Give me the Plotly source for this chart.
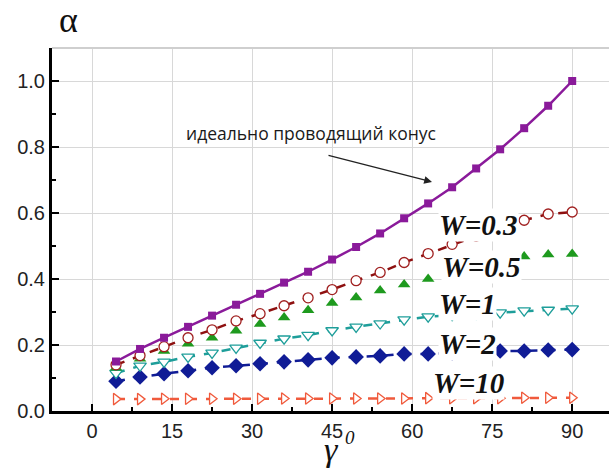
import plotly.graph_objects as go

gamma = [4.5, 9, 13.5, 18, 22.5, 27, 31.5, 36, 40.5, 45, 49.5, 54, 58.5, 63, 67.5, 72, 76.5, 81, 85.5, 90]

alpha_ideal = [0.150, 0.188, 0.222, 0.255, 0.289, 0.322, 0.355, 0.389, 0.422, 0.459,
               0.497, 0.538, 0.584, 0.629, 0.678, 0.735, 0.793, 0.857, 0.925, 1.000]
alpha_w03 = [0.140, 0.168, 0.195, 0.222, 0.246, 0.273, 0.295, 0.319, 0.343, 0.368,
             0.395, 0.420, 0.450, 0.477, 0.505, 0.530, 0.555, 0.578, 0.597, 0.603]
alpha_w05 = [0.131, 0.158, 0.182, 0.204, 0.222, 0.243, 0.264, 0.283, 0.305, 0.327,
             0.344, 0.365, 0.383, 0.400, 0.420, 0.440, 0.455, 0.468, 0.474, 0.476]
alpha_w1 = [0.115, 0.137, 0.149, 0.164, 0.176, 0.191, 0.206, 0.219, 0.230, 0.244,
            0.255, 0.265, 0.277, 0.286, 0.290, 0.294, 0.298, 0.304, 0.306, 0.310]
alpha_w2 = [0.090, 0.103, 0.113, 0.122, 0.131, 0.137, 0.143, 0.149, 0.155, 0.161,
            0.164, 0.167, 0.173, 0.173, 0.176, 0.179, 0.182, 0.182, 0.185, 0.186]
alpha_w10 = [0.036, 0.036, 0.037, 0.037, 0.037, 0.037, 0.037, 0.038, 0.038, 0.038,
             0.038, 0.038, 0.038, 0.039, 0.039, 0.039, 0.039, 0.040, 0.040, 0.040]

x_ticks = [0, 15, 30, 45, 60, 75, 90]
y_ticks = [0.0, 0.2, 0.4, 0.6, 0.8, 1.0]

fig = go.Figure()

fig.add_trace(go.Scatter(x=gamma, y=alpha_w10, mode="lines+markers",
    line=dict(color="#F05A3C", width=2.5, dash="dash"),
    marker=dict(symbol="triangle-right", size=10, color="white", line=dict(color="#F05A3C", width=1.3))))
fig.add_trace(go.Scatter(x=gamma, y=alpha_w2, mode="lines+markers",
    line=dict(color="#101C96", width=2.5, dash="dash"),
    marker=dict(symbol="diamond", size=12, color="#101C96")))
fig.add_trace(go.Scatter(x=gamma, y=alpha_w1, mode="lines+markers",
    line=dict(color="#1E9E9A", width=2.5, dash="dash"),
    marker=dict(symbol="triangle-down", size=11, color="white", line=dict(color="#1E9E9A", width=1.3))))
fig.add_trace(go.Scatter(x=gamma, y=alpha_w05, mode="markers",
    marker=dict(symbol="triangle-up", size=11, color="#1E9A1E")))
fig.add_trace(go.Scatter(x=gamma, y=alpha_w03, mode="lines+markers",
    line=dict(color="#8E1010", width=2.5, dash="dash"),
    marker=dict(symbol="circle", size=10, color="white", line=dict(color="#A02020", width=1.3))))
fig.add_trace(go.Scatter(x=gamma, y=alpha_ideal, mode="lines+markers",
    line=dict(color="#8A1A9A", width=2.5),
    marker=dict(symbol="square", size=8, color="#8A1A9A")))

def px(x):
    return (x - 52) / 557

def py(y):
    return (411 - y) / 363

lab_font = dict(family="Liberation Serif", size=29, color="#111")
labels = [("<b><i>W=0.3</i></b>", 478, 225), ("<b><i>W=0.5</i></b>", 481, 267),
          ("<b><i>W=1</i></b>", 467, 304), ("<b><i>W=2</i></b>", 467, 344),
          ("<b><i>W=10</i></b>", 468, 383)]
for txt, lx, ly in labels:
    fig.add_annotation(text=txt, xref="paper", yref="paper", x=px(lx), y=py(ly),
        xanchor="center", yanchor="middle", showarrow=False, font=lab_font,
        bgcolor="white", borderpad=0)

fig.add_annotation(text="идеально проводящий конус", x=px(311), y=py(133),
    xref="paper", yref="paper", xanchor="center", yanchor="middle", showarrow=False,
    font=dict(family="Open Sans", size=17.5, color="#1a1a1a"))
fig.add_annotation(x=px(432), y=py(182), ax=-105, ay=-27,
    xref="paper", yref="paper", axref="pixel", ayref="pixel", text="", showarrow=True,
    arrowhead=2, arrowsize=1.2, arrowwidth=1.3, arrowcolor="#222")

fig.add_annotation(text="α", xref="paper", yref="paper", x=px(68), y=py(20),
    xanchor="center", yanchor="middle", showarrow=False,
    font=dict(family="Liberation Serif", size=36, color="#111"))
fig.add_annotation(text="<i>γ</i>", xref="paper", yref="paper", x=px(331), y=py(449),
    xanchor="center", yanchor="middle", showarrow=False,
    font=dict(family="Liberation Serif", size=34, color="#111"))
fig.add_annotation(text="<i>0</i>", xref="paper", yref="paper", x=px(350), y=py(437),
    xanchor="center", yanchor="middle", showarrow=False,
    font=dict(family="Liberation Serif", size=19, color="#111"))

tick_font = dict(family="Liberation Sans", size=20, color="#222")
fig.update_xaxes(range=[-7.5, 96.9], tickvals=x_ticks, ticks="inside", ticklen=7, tickwidth=2,
    tickcolor="black", showline=True, linecolor="black", linewidth=3, showgrid=True,
    gridcolor="#d8d8d8", gridwidth=1, zeroline=False, tickfont=tick_font,
    minor=dict(tickvals=[7.5, 22.5, 37.5, 52.5, 67.5, 82.5], ticks="inside", ticklen=4, tickwidth=1.5, tickcolor="black"))
fig.update_yaxes(range=[0, 1.1], tickvals=y_ticks, ticktext=["0.0", "0.2", "0.4", "0.6", "0.8", "1.0"],
    ticks="inside", ticklen=7, tickwidth=2, tickcolor="black", showline=True, linecolor="black", linewidth=3,
    showgrid=True, gridcolor="#d8d8d8", gridwidth=1, zeroline=False, tickfont=tick_font,
    minor=dict(tickvals=[0.1, 0.3, 0.5, 0.7, 0.9], ticks="inside", ticklen=4, tickwidth=1.5, tickcolor="black"))

fig.add_shape(type="line", xref="paper", yref="paper", x0=0, x1=1, y0=1, y1=1, line=dict(color="#cfcfcf", width=2))

fig.update_layout(width=609, height=470, margin=dict(l=52, r=0, t=48, b=59),
    plot_bgcolor="white", paper_bgcolor="white", showlegend=False)

fig.write_html("out.html")
